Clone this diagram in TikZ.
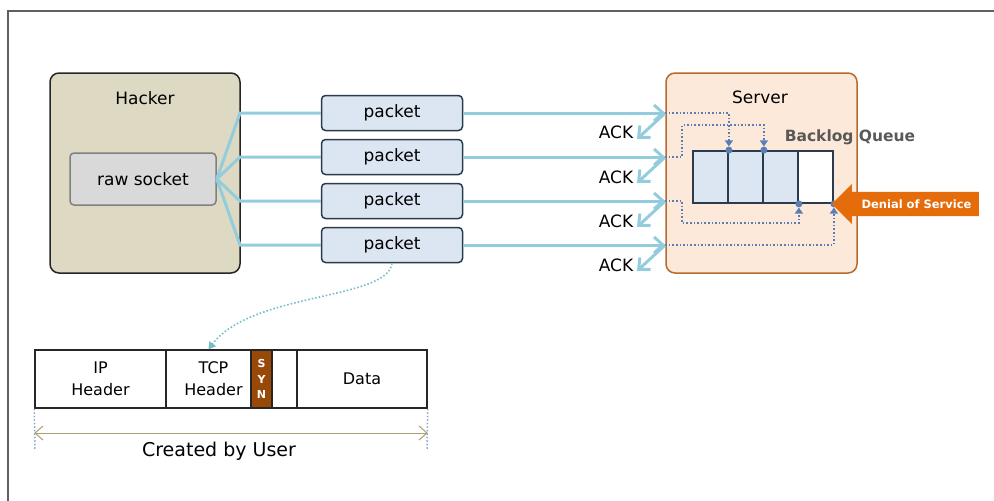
\documentclass[tikz,border=0pt]{standalone}
\usepackage{fontspec}
\setmainfont{DejaVu Sans}
\definecolor{hackfill}{HTML}{DDD9C3}
\definecolor{sockfill}{HTML}{D9D9D9}
\definecolor{pktfill}{HTML}{DCE6F2}
\definecolor{pktdraw}{HTML}{2B3A4C}
\definecolor{srvfill}{HTML}{FDE9D9}
\definecolor{srvdraw}{HTML}{B8692E}
\definecolor{flowblue}{HTML}{93CDDD}
\definecolor{dotblue}{HTML}{5A7DB5}
\definecolor{dosorange}{HTML}{E46C0A}
\definecolor{synbrown}{HTML}{984807}
\definecolor{dimolive}{HTML}{A8A070}
\usetikzlibrary{calc, positioning, arrows.meta, shapes.arrows}

\begin{document}
\begin{tikzpicture}[
  x=1pt, y=-1pt,
  font=\fontsize{17}{20}\selectfont,
  frame/.style={draw=gray!75!black, line width=2pt},
  host/.style={draw=black!85, rounded corners=9pt, line width=1.5pt,
               fill=hackfill, minimum width=190pt, minimum height=200pt},
  sock/.style={draw=gray, rounded corners=4pt, line width=1.5pt,
               fill=sockfill, minimum width=146pt, minimum height=52pt},
  pkt/.style={draw=pktdraw, rounded corners=4pt, line width=1.5pt,
              fill=pktfill, minimum width=141pt, minimum height=35pt},
  srv/.style={draw=srvdraw, rounded corners=9pt, line width=1.5pt,
              fill=srvfill, minimum width=191pt, minimum height=200pt},
  cell/.style={draw=pktdraw, line width=1.8pt, minimum width=35pt,
               minimum height=52pt, inner sep=0pt},
  qdot/.style={circle, fill=dotblue, inner sep=0pt, minimum size=7pt},
  hdr/.style={draw=black!85, line width=1.5pt, minimum height=58pt,
              inner sep=0pt, align=center, font=\fontsize{16}{22}\selectfont},
  flow/.style={draw=flowblue, line width=3pt},
  arr/.style={flow, -{Straight Barb[length=9pt, width=16pt]}},
  qline/.style={draw=dotblue, dotted, line width=1.6pt,
                -{Triangle[length=6pt, width=8pt]}},
  dos/.style={single arrow, shape border rotate=180, fill=dosorange,
              minimum height=147pt, minimum width=40pt,
              single arrow head extend=7.5pt, inner xsep=0pt, inner ysep=7pt,
              text=white, font=\bfseries\fontsize{11.5}{13}\selectfont},
  lbl/.style={inner sep=1pt}
]
\useasboundingbox (0,0) rectangle (994,501);

%% ——— Marco ———
\draw[frame] (8,501) |- (994,11);

%% ——— Hacker ———
\node[host] (hack) at (145,173) {};
\node[lbl] (hacklbl) at (145,98) {Hacker};
\node[sock] (sock) at (143,179) {raw socket};

%% ——— Paquetes ———
\node[pkt] (p1) at (392,113) {packet};
\node[pkt] (p2) at (392,157) {packet};
\node[pkt] (p3) at (392,201) {packet};
\node[pkt] (p4) at (392,245) {packet};

%% ——— Server ———
\node[srv] (srv) at (761.5,173) {};
\node[lbl] (srvlbl) at (760,97) {Server};
\node[lbl, font=\bfseries\fontsize{15.5}{18}\selectfont, text=black!65]
  (blq) at (850,137) {Backlog Queue};

\node[cell, fill=pktfill] (q1) at (710.5,177) {};
\node[cell, fill=pktfill] (q2) at (745.5,177) {};
\node[cell, fill=pktfill] (q3) at (780.5,177) {};
\node[cell, fill=white]   (q4) at (815.5,177) {};

\node[qdot] (d1) at (q1.north east) {};
\node[qdot] (d2) at (q2.north east) {};
\node[qdot] (d3) at (q3.south east) {};
\node[qdot] (d4) at (q4.south east) {};

\node[dos] (dos) at (911.5,204) {\hspace*{10pt}Denial of Service};

%% ——— ACK ———
\node[lbl] (ack1) at (616,132) {ACK};
\node[lbl] (ack2) at (616,177) {ACK};
\node[lbl] (ack3) at (616,221) {ACK};
\node[lbl] (ack4) at (616,265) {ACK};
\coordinate (a1) at (637,139);
\coordinate (a2) at (637,183);
\coordinate (a3) at (637,227);
\coordinate (a4) at (637,271);

%% ——— Abanico raw socket → paquetes ———
\coordinate (f1) at (240,113);
\coordinate (f2) at (240,157);
\coordinate (f3) at (240,201);
\coordinate (f4) at (240,245);
\draw[flow] (sock.east) -- (f1) -- (p1.west);
\draw[flow] (sock.east) -- (f2) -- (p2.west);
\draw[flow] (sock.east) -- (f3) -- (p3.west);
\draw[flow] (sock.east) -- (f4) -- (p4.west);

%% ——— Paquetes → Server, ACK de vuelta ———
\draw[arr] (p1.east) -- (p1.east -| srv.west);
\draw[arr] (p2.east) -- (p2.east -| srv.west);
\draw[arr] (p3.east) -- (p3.east -| srv.west);
\draw[arr] (p4.east) -- (p4.east -| srv.west);
\draw[arr] (p1.east -| srv.west) -- (a1);
\draw[arr] (p2.east -| srv.west) -- (a2);
\draw[arr] (p3.east -| srv.west) -- (a3);
\draw[arr] (p4.east -| srv.west) -- (a4);

%% ——— Entradas a la cola ———
\draw[qline] (p1.east -| srv.west) -| (d1.north);
\draw[qline] (p2.east -| srv.west) -- ++(17,0) -- ++(0,-32) -| (d2.north);
\draw[qline] (p3.east -| srv.west) -- ++(17,0) -- ++(0,22) -| (d3.south);
\draw[qline] (p4.east -| srv.west) -| (d4.south);

%% ——— Estructura del paquete ———
\node[hdr, minimum width=131pt] (ip)   at (100.5,379) {IP\\Header};
\node[hdr, minimum width=85pt]  (tcp)  at (208.5,379) {\hspace*{10pt}TCP\\\hspace*{10pt}Header};
\node[hdr, minimum width=21pt, fill=synbrown, text=white,
      font=\bfseries\fontsize{11}{15.5}\selectfont] (syn) at (261.5,379) {S\\Y\\N};
\node[hdr, minimum width=25pt]  (gap)  at (284.5,379) {};
\node[hdr, minimum width=130pt] (data) at (362,379) {Data};

\draw[draw=flowblue!80!teal, dotted, line width=1.6pt,
      -{Triangle[length=7pt, width=8pt]}]
  (p4.south) .. controls (388,300) and (252,292) .. (tcp.north);

%% ——— Cota ———
\coordinate (u1) at (35,450);
\coordinate (u2) at (427,450);
\draw[draw=dotblue!70, dotted, line width=1.5pt] (ip.south west) -- (u1);
\draw[draw=dotblue!70, dotted, line width=1.5pt] (data.south east) -- (u2);
\draw[draw=dimolive, line width=1pt,
      {Straight Barb[length=8pt, width=14pt]}-{Straight Barb[length=8pt, width=14pt]}]
  (ip.south west |- 0,433) -- (data.south east |- 0,433);
\node[lbl, font=\fontsize{19}{22}\selectfont] (user) at (219,451) {Created by User};

\end{tikzpicture}
\end{document}
